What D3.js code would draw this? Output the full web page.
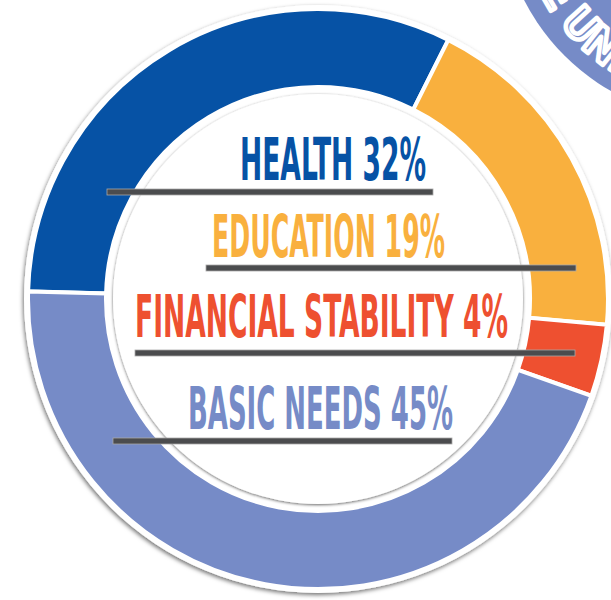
<!DOCTYPE html>
<html>
<head>
<meta charset="utf-8">
<script src="https://cdn.jsdelivr.net/npm/d3@7"></script>
<style>
  html, body { margin: 0; padding: 0; background: #fff; overflow: hidden; }
  svg { display: block; }
</style>
</head>
<body>
<script>
// chart data
const categories = ['HEALTH', 'EDUCATION', 'FINANCIAL STABILITY', 'BASIC NEEDS']
const values = [32, 19, 4, 45]
const colors = ['#0652a5', '#f9b03e', '#ee5030', '#768bc7']
const badgeText = 'LIVE UNITED'

const width = 611
const height = 600
const cx = 318
const cy = 299
const outerR = 290
const innerR = 212

// where each label sits: text x, text width, baseline, rule x1/x2/y
const labelLayout = [
  { x: 240, w: 186, y: 180, lx1: 107, lx2: 433, ly: 192 },
  { x: 212, w: 233, y: 257, lx1: 206, lx2: 576, ly: 268 },
  { x: 135, w: 373, y: 337, lx1: 135, lx2: 575, ly: 353 },
  { x: 188, w: 265, y: 429, lx1: 113, lx2: 452, ly: 441 }
]

const svg = d3.select('body').append('svg')
  .attr('width', width)
  .attr('height', height)

const defs = svg.append('defs')
defs.append('filter').attr('id', 'ringShadow')
  .attr('x', '-10%').attr('y', '-10%').attr('width', '120%').attr('height', '120%')
  .append('feDropShadow')
  .attr('dx', -1).attr('dy', 2).attr('stdDeviation', 2)
  .attr('flood-color', '#000').attr('flood-opacity', 0.55)
defs.append('filter').attr('id', 'discShadow')
  .attr('x', '-10%').attr('y', '-10%').attr('width', '120%').attr('height', '120%')
  .append('feDropShadow')
  .attr('dx', 0).attr('dy', 1).attr('stdDeviation', 1.8)
  .attr('flood-color', '#000').attr('flood-opacity', 0.6)

// badge in the top right corner
const badge = svg.append('g').attr('transform', 'translate(720,-100)')
badge.append('circle').attr('r', 220).attr('fill', '#768bc7')
const badgeR = 202
badge.append('path')
  .attr('id', 'badgePath')
  .attr('fill', 'none')
  .attr('d', `M${-badgeR},0 A${badgeR},${badgeR} 0 0 0 ${badgeR},0`)
badge.append('text')
  .attr('font-family', 'Roboto, "DejaVu Sans", sans-serif')
  .attr('font-weight', 'bold')
  .attr('font-size', 44)
  .attr('letter-spacing', 2)
  .attr('fill', 'none')
  .attr('stroke', '#fff')
  .attr('stroke-width', 4.5)
  .attr('stroke-linejoin', 'round')
  .append('textPath')
  .attr('href', '#badgePath')
  .attr('startOffset', 22)
  .text(badgeText)

const g = svg.append('g').attr('transform', `translate(${cx},${cy})`)

// white rim with its shadow
g.append('circle')
  .attr('r', outerR + 4)
  .attr('fill', '#fff')
  .attr('filter', 'url(#ringShadow)')

const pie = d3.pie()
  .sort(null)
  .startAngle(-88.5 * Math.PI / 180)
  .endAngle(271.5 * Math.PI / 180)
  .value(d => d.value)

const arc = d3.arc()
  .innerRadius(innerR)
  .outerRadius(outerR)

const data = categories.map((c, i) => ({ label: c, value: values[i], color: colors[i] }))

g.selectAll('path.slice')
  .data(pie(data))
  .enter()
  .append('path')
  .attr('class', 'slice')
  .attr('d', arc)
  .attr('fill', d => d.data.color)
  .attr('stroke', '#fff')
  .attr('stroke-width', 4)
  .attr('stroke-linejoin', 'miter')

// inner white disc
g.append('circle')
  .attr('r', 205)
  .attr('fill', '#fff')
  .attr('filter', 'url(#discShadow)')

// labels and their rules
const labels = svg.append('g').attr('class', 'labels')
data.forEach((d, i) => {
  const p = labelLayout[i]
  labels.append('rect')
    .attr('x', p.lx1)
    .attr('y', p.ly - 3)
    .attr('width', p.lx2 - p.lx1)
    .attr('height', 6)
    .attr('fill', '#4b4c4e')
    .attr('stroke', '#a9a9a9')
    .attr('stroke-width', 0.8)
  labels.append('text')
    .attr('x', p.x)
    .attr('y', p.y)
    .attr('font-family', '"Liberation Sans Narrow", "DejaVu Sans Condensed", "Roboto", sans-serif')
    .attr('font-weight', 'bold')
    .attr('font-size', 59)
    .attr('textLength', p.w)
    .attr('lengthAdjust', 'spacingAndGlyphs')
    .attr('fill', d.color)
    .text(`${d.label} ${d.value}%`)
})
</script>
</body>
</html>
